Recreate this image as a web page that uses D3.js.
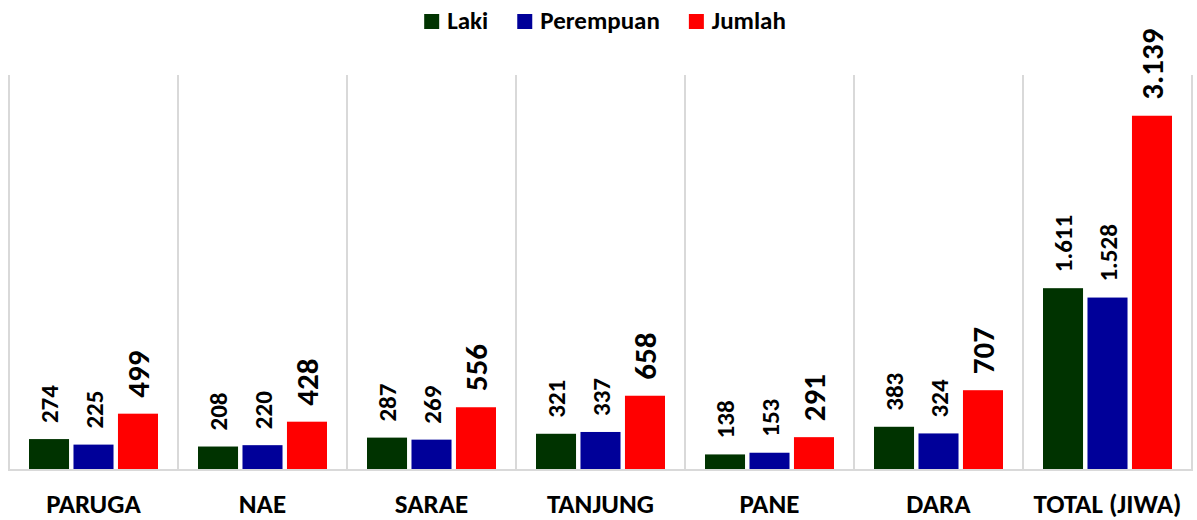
<!DOCTYPE html>
<html>
<head>
<meta charset="utf-8">
<script src="https://cdn.jsdelivr.net/npm/d3@7"></script>
<style>
  body { margin: 0; background: #fff; }
  text { font-family: Carlito, Lato, "Open Sans", sans-serif; font-weight: bold; fill: #000; }
</style>
</head>
<body>
<svg id="chart" width="1197" height="520"></svg>
<script>
// data
var categories = ["PARUGA", "NAE", "SARAE", "TANJUNG", "PANE", "DARA", "TOTAL (JIWA)"];
var seriesNames = ["Laki", "Perempuan", "Jumlah"];
var laki = [274, 208, 287, 321, 138, 383, 1611];
var perempuan = [225, 220, 269, 337, 153, 324, 1528];
var jumlah = [499, 428, 556, 658, 291, 707, 3139];
var colors = ["#003300", "#000099", "#ff0000"];

var svg = d3.select("#chart");

var plot = { left: 9, right: 1192, top: 75, bottom: 470 };

// numbers with "." as thousands separator
var fmt = d3.formatLocale({ decimal: ",", thousands: ".", grouping: [3], currency: ["Rp", ""] }).format(",d");

var x = d3.scaleBand()
  .domain(categories)
  .range([plot.left, plot.right])
  .padding(0);

var xInner = d3.scaleBand()
  .domain(seriesNames)
  .range([20, x.bandwidth() - 20])
  .paddingInner(0.1)
  .paddingOuter(0);

var y = d3.scaleLinear()
  .domain([0, 3500])
  .range([plot.bottom, plot.top]);

// vertical separators between categories
var bounds = categories.map(function(c) { return x(c); }).concat([plot.right]);
svg.append("g")
  .selectAll("line")
  .data(bounds)
  .enter().append("line")
  .attr("x1", function(d) { return d; })
  .attr("x2", function(d) { return d; })
  .attr("y1", plot.top)
  .attr("y2", plot.bottom)
  .attr("stroke", "#d9d9d9")
  .attr("stroke-width", 2);

// baseline
svg.append("line")
  .attr("x1", plot.left - 1)
  .attr("x2", plot.right + 1)
  .attr("y1", plot.bottom)
  .attr("y2", plot.bottom)
  .attr("stroke", "#d9d9d9")
  .attr("stroke-width", 2);

// build rows for bars
var rows = [];
categories.forEach(function(c, i) {
  [laki[i], perempuan[i], jumlah[i]].forEach(function(v, j) {
    rows.push({ cat: c, series: seriesNames[j], value: v, color: colors[j], big: j === 2 });
  });
});

svg.append("g")
  .selectAll("rect")
  .data(rows)
  .enter().append("rect")
  .attr("x", function(d) { return x(d.cat) + xInner(d.series); })
  .attr("y", function(d) { return y(d.value); })
  .attr("width", xInner.bandwidth())
  .attr("height", function(d) { return plot.bottom - y(d.value) - 1; })
  .attr("fill", function(d) { return d.color; });

// value labels, rotated
svg.append("g")
  .selectAll("text")
  .data(rows)
  .enter().append("text")
  .attr("transform", function(d) {
    var cx = x(d.cat) + xInner(d.series) + xInner.bandwidth() / 2;
    return "translate(" + cx + "," + (y(d.value) - 16) + ") rotate(-90)";
  })
  .attr("dy", "0.36em")
  .attr("text-anchor", "start")
  .style("font-size", function(d) { return d.big ? "31px" : "25px"; })
  .text(function(d) { return fmt(d.value); });

// category labels
svg.append("g")
  .selectAll("text")
  .data(categories)
  .enter().append("text")
  .attr("x", function(d) { return x(d) + x.bandwidth() / 2; })
  .attr("y", 513)
  .attr("text-anchor", "middle")
  .style("font-size", "27px")
  .text(function(d) { return d; });

// legend
var legend = svg.append("g");
var items = legend.selectAll("g")
  .data(seriesNames)
  .enter().append("g");

items.append("rect")
  .attr("width", 15)
  .attr("height", 15)
  .attr("y", 14)
  .attr("fill", function(d, i) { return colors[i]; });

items.append("text")
  .attr("x", 23)
  .attr("y", 29)
  .style("font-size", "25px")
  .text(function(d) { return d; });

var gap = 29;
var pos = 0;
items.each(function() {
  var w = 23 + d3.select(this).select("text").node().getComputedTextLength();
  d3.select(this).attr("transform", "translate(" + pos + ",0)");
  pos += w + gap;
});
var total = pos - gap;
legend.attr("transform", "translate(" + (605 - total / 2) + ",0)");
</script>
</body>
</html>
